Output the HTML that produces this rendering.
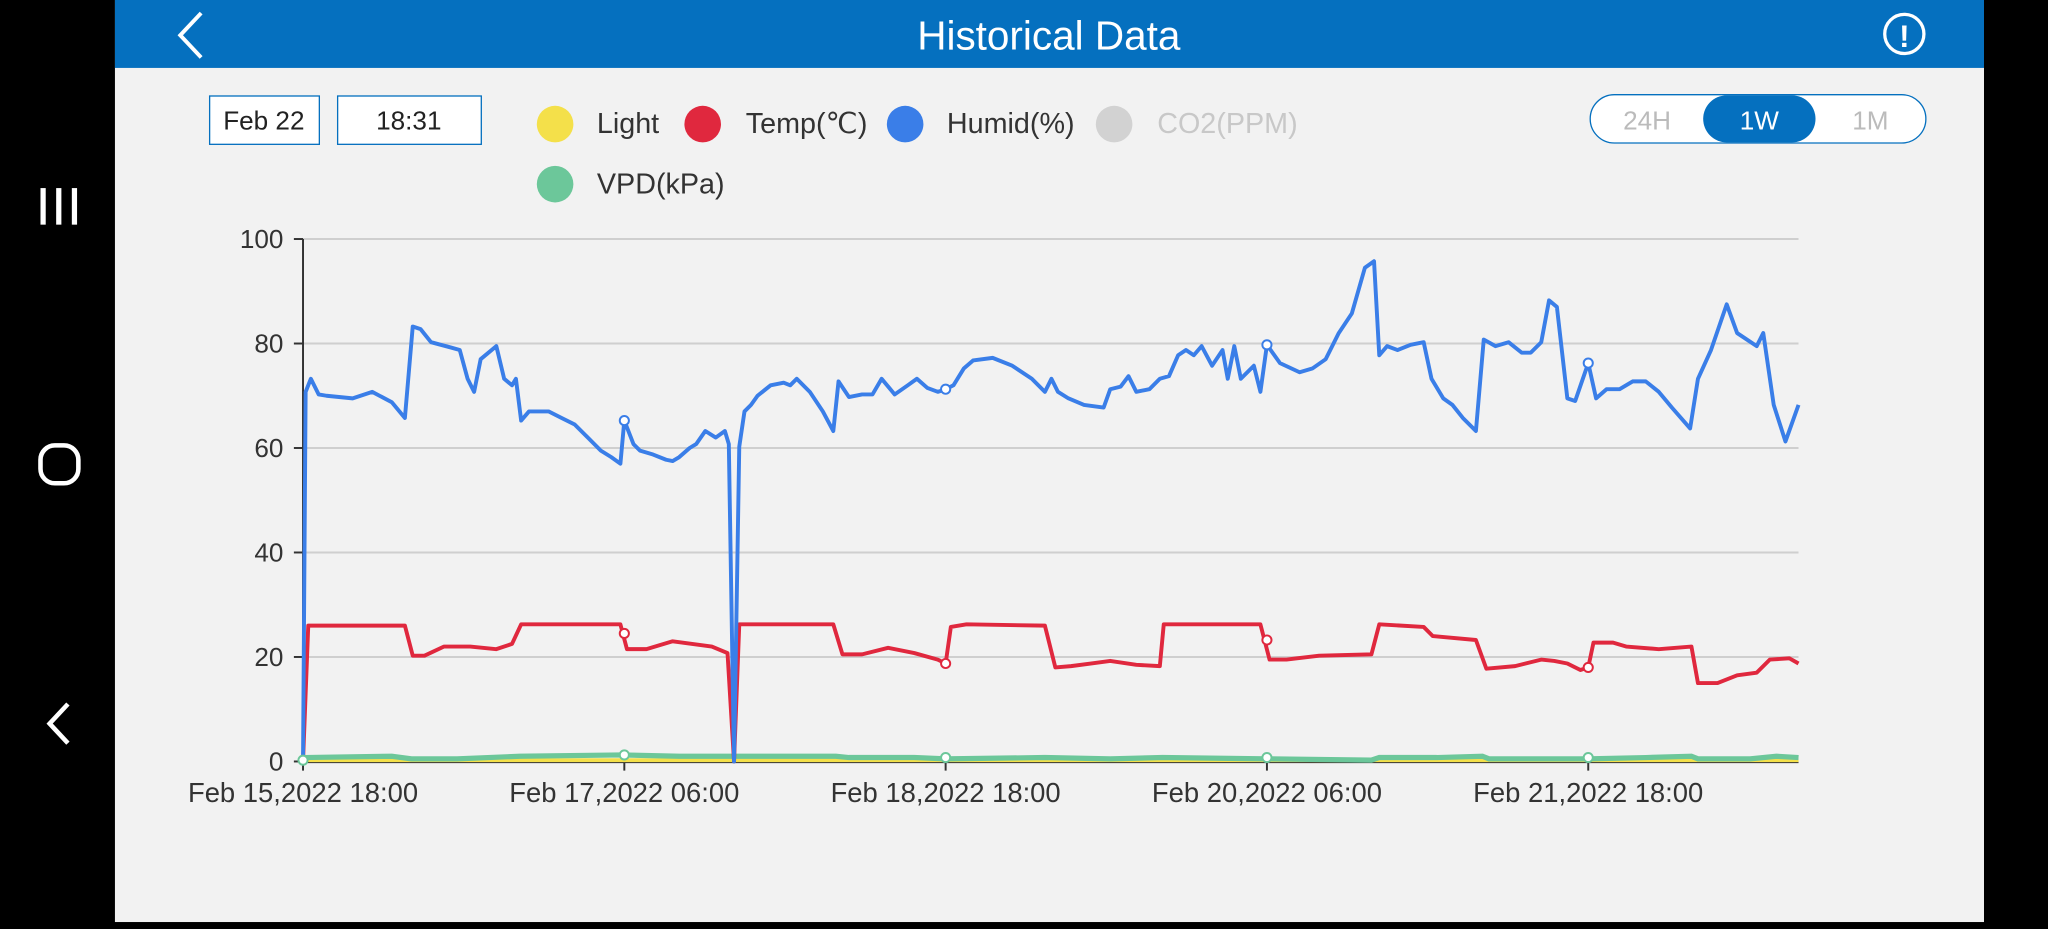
<!DOCTYPE html>
<html><head><meta charset="utf-8"><style>
html,body{margin:0;padding:0;width:2048px;height:922px;overflow:hidden;background:#000;}
#w{position:absolute;left:0;top:0;width:1568px;height:706px;transform:scale(1.30612);transform-origin:0 0;font-family:"Liberation Sans",sans-serif;}
</style></head><body><div id="w">
<svg width="1568" height="706" viewBox="0 0 1568 706" xmlns="http://www.w3.org/2000/svg" font-family="Liberation Sans, sans-serif">
<rect x="0" y="0" width="1568" height="706" fill="#000"/>
<rect x="88" y="0" width="1431" height="706" fill="#f2f2f2"/>
<rect x="88" y="0" width="1431" height="52" fill="#0570bf"/>
<polyline points="154,10 138,27 154,44" fill="none" stroke="#fff" stroke-width="3"/>
<text x="803" y="38" fill="#fff" font-size="31" text-anchor="middle">Historical Data</text>
<circle cx="1458" cy="26" r="15" fill="none" stroke="#fff" stroke-width="2.5"/>
<text x="1458" y="36" fill="#fff" font-size="24" text-anchor="middle" font-weight="bold">!</text>
<g fill="#fff"><rect x="31" y="144" width="4" height="28"/><rect x="43" y="144" width="4" height="28"/><rect x="55" y="144" width="4" height="28"/></g>
<rect x="31" y="341" width="29" height="29" rx="11" fill="none" stroke="#fff" stroke-width="3.5"/>
<polyline points="52,539 38,554 52,569" fill="none" stroke="#fff" stroke-width="3.5"/>
<rect x="160.5" y="73.5" width="84" height="37" fill="#fff" stroke="#0570bf"/>
<text x="202" y="99" font-size="20" text-anchor="middle" fill="#222">Feb 22</text>
<rect x="258.5" y="73.5" width="110" height="37" fill="#fff" stroke="#0570bf"/>
<text x="313" y="99" font-size="20" text-anchor="middle" fill="#222">18:31</text>
<g font-size="22">
<circle cx="425" cy="95" r="14" fill="#f4e04a"/><text x="457" y="102" fill="#333">Light</text>
<circle cx="538" cy="95" r="14" fill="#e0283e"/><text x="571" y="102" fill="#333">Temp(℃)</text>
<circle cx="693" cy="95" r="14" fill="#3a7ee8"/><text x="725" y="102" fill="#333">Humid(%)</text>
<circle cx="853" cy="95" r="14" fill="#d2d2d2"/><text x="886" y="102" fill="#c8c8c8">CO2(PPM)</text>
<circle cx="425" cy="141" r="14" fill="#6cc79a"/><text x="457" y="148" fill="#333">VPD(kPa)</text>
</g>
<rect x="1217.5" y="72.5" width="257" height="37" rx="18.5" fill="#fff" stroke="#0570bf"/>
<rect x="1304" y="73" width="86" height="36" rx="18" fill="#0570bf"/>
<g font-size="20" text-anchor="middle"><text x="1261" y="99" fill="#bbb">24H</text><text x="1347" y="99" fill="#fff">1W</text><text x="1432" y="99" fill="#bbb">1M</text></g>
<g stroke="#cfcfcf" stroke-width="1.5"><line x1="232" y1="183" x2="1377" y2="183"/><line x1="232" y1="263" x2="1377" y2="263"/><line x1="232" y1="343" x2="1377" y2="343"/><line x1="232" y1="423" x2="1377" y2="423"/><line x1="232" y1="503" x2="1377" y2="503"/></g>
<g stroke="#333" stroke-width="1.5"><line x1="232" y1="183" x2="232" y2="584"/><line x1="232" y1="583.5" x2="1377" y2="583.5"/>
<line x1="225" y1="183" x2="232" y2="183"/><line x1="225" y1="263" x2="232" y2="263"/><line x1="225" y1="343" x2="232" y2="343"/><line x1="225" y1="423" x2="232" y2="423"/><line x1="225" y1="503" x2="232" y2="503"/><line x1="225" y1="583" x2="232" y2="583"/>
<line x1="232" y1="583" x2="232" y2="590"/><line x1="478" y1="583" x2="478" y2="590"/><line x1="724" y1="583" x2="724" y2="590"/><line x1="970" y1="583" x2="970" y2="590"/><line x1="1216" y1="583" x2="1216" y2="590"/></g>
<g font-size="20" fill="#333" text-anchor="end"><text x="217" y="190">100</text><text x="217" y="270">80</text><text x="217" y="350">60</text><text x="217" y="430">40</text><text x="217" y="510">20</text><text x="217" y="590">0</text></g>
<g font-size="21" fill="#333" text-anchor="middle"><text x="232" y="614">Feb 15,2022 18:00</text><text x="478" y="614">Feb 17,2022 06:00</text><text x="724" y="614">Feb 18,2022 18:00</text><text x="970" y="614">Feb 20,2022 06:00</text><text x="1216" y="614">Feb 21,2022 18:00</text></g>
<polyline fill="none" stroke="#f4e04a" stroke-width="3" points="232,582 1377,582"/>
<polyline fill="none" stroke="#6cc79a" stroke-width="4" points="232,580 300,579 315,581 350,581 398,579 475,578 520,579 560,579 600,579 640,579 650,580 700,580 724,581 800,580 850,581 890,580 970,581 1050,582 1056,580 1100,580 1135,579 1140,581 1200,581 1216,581 1260,580 1295,579 1300,581 1340,581 1360,579 1377,580"/>
<polyline fill="none" stroke="#e0283e" stroke-width="3" stroke-linejoin="round" points="232,583 236,479 310,479 316,502 325,502 340,495 360,495 380,497 392,493 399,478 475,478 480,497 495,497 515,491 530,493 545,495 557,500 562,583 566,478 638,478 645,501 660,501 680,496 700,500 718,505 724,508 728,480 740,478 800,479 808,511 820,510 835,508 850,506 870,509 888,510 891,478 965,478 972,505 985,505 1010,502 1050,501 1056,478 1090,480 1097,487 1130,490 1138,512 1160,510 1180,505 1190,506 1200,508 1210,513 1216,511 1220,492 1235,492 1245,495 1270,497 1295,495 1300,523 1315,523 1330,517 1345,515 1355,505 1370,504 1377,508"/>
<polyline fill="none" stroke="#3a7ee8" stroke-width="3" stroke-linejoin="round" points="232,583 234,300 238,290 244,302 250,303 270,305 285,300 300,308 310,320 316,250 322,252 330,262 345,266 352,268 358,290 363,300 368,275 380,265 386,290 392,295 395,290 399,322 405,315 420,315 430,320 440,325 450,335 460,345 468,350 475,355 478,322 485,340 490,345 500,348 510,352 515,353 520,350 528,343 533,340 540,330 548,335 555,330 558,340 562,583 566,342 570,315 575,310 580,303 590,295 600,293 605,295 610,290 620,300 630,315 638,330 642,292 650,304 660,302 668,302 675,290 685,302 695,295 702,290 710,297 718,300 724,298 730,295 738,282 745,276 760,274 775,280 790,290 800,300 805,290 810,300 818,305 830,310 845,312 850,298 858,296 864,288 870,300 880,298 888,290 895,288 902,272 908,268 914,272 920,265 928,280 936,268 940,290 945,265 950,290 960,280 965,300 970,264 980,278 995,285 1005,282 1015,275 1025,255 1035,240 1045,205 1052,200 1056,272 1062,265 1070,268 1080,264 1090,262 1096,290 1105,305 1112,310 1120,320 1130,330 1136,260 1145,265 1155,262 1165,270 1172,270 1180,262 1186,230 1192,235 1200,305 1206,307 1216,278 1222,305 1230,298 1240,298 1250,292 1260,292 1270,300 1280,312 1294,328 1300,290 1310,268 1322,233 1330,255 1345,265 1350,255 1358,310 1367,338 1377,310"/>
<g fill="#fff" stroke-width="1.5">
<circle cx="478" cy="322" r="3.5" stroke="#3a7ee8"/><circle cx="724" cy="298" r="3.5" stroke="#3a7ee8"/><circle cx="970" cy="264" r="3.5" stroke="#3a7ee8"/><circle cx="1216" cy="278" r="3.5" stroke="#3a7ee8"/>
<circle cx="478" cy="485" r="3.5" stroke="#e0283e"/><circle cx="724" cy="508" r="3.5" stroke="#e0283e"/><circle cx="970" cy="490" r="3.5" stroke="#e0283e"/><circle cx="1216" cy="511" r="3.5" stroke="#e0283e"/>
<circle cx="232" cy="582" r="3.5" stroke="#6cc79a"/><circle cx="478" cy="578" r="3.5" stroke="#6cc79a"/><circle cx="724" cy="580" r="3.5" stroke="#6cc79a"/><circle cx="970" cy="580" r="3.5" stroke="#6cc79a"/><circle cx="1216" cy="580" r="3.5" stroke="#6cc79a"/>
</g>
</svg></div></body></html>
